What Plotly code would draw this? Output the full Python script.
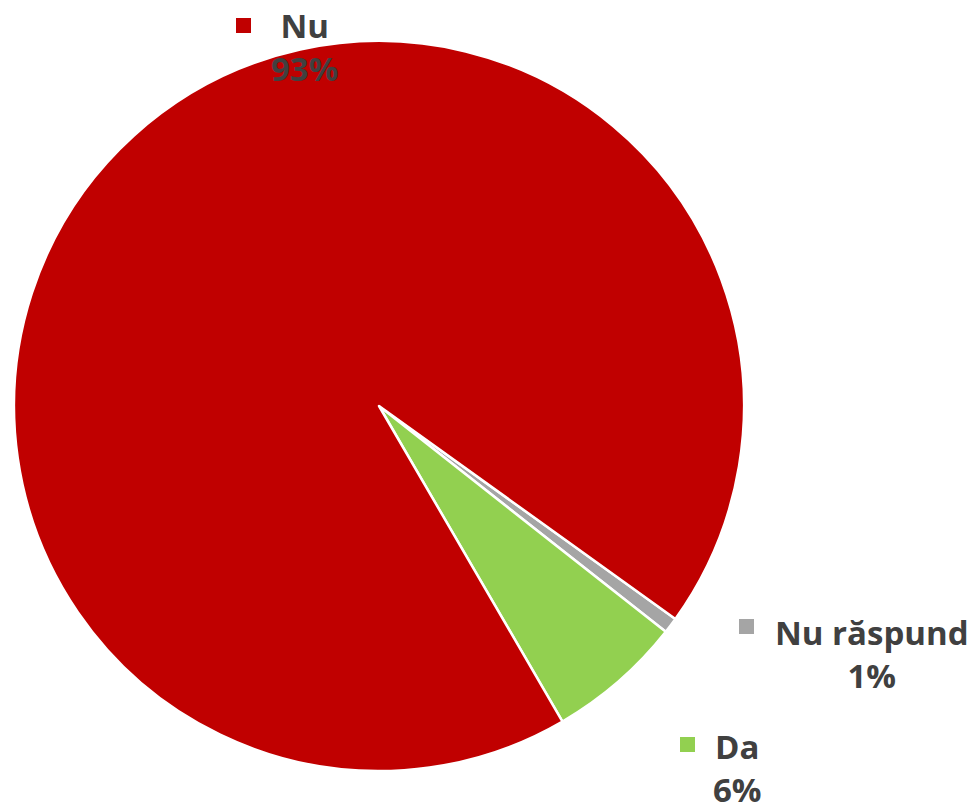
import plotly.graph_objects as go

labels = ["Nu răspund", "Da", "Nu"]
values = [0.7, 6.0, 93.3]
colors = ["#A5A5A5", "#92D050", "#C00000"]

# page body has an 8px margin; figure sized to fit the window
OFF = 8
W, H = 977 - OFF, 804 - OFF

def px(x):
    return (x - OFF) / W

def py(y):
    return 1 - (y - OFF) / H

fig = go.Figure(go.Pie(
    labels=labels,
    values=values,
    sort=False,
    direction="clockwise",
    rotation=125.7,
    marker=dict(colors=colors, line=dict(color="white", width=2.5)),
    textinfo="none",
    hoverinfo="label+percent",
    showlegend=False,
    domain=dict(x=[px(14), px(744)], y=[py(771), py(41)]),
))

# label block positions in window pixels (text center x, text middle y, marker x0, y0)
label_pos = {
    "Nu": (304, 47, 236, 18),
    "Nu răspund": (872, 654, 739, 619),
    "Da": (737, 768, 680, 737),
}

total = sum(values)
for lab, val, col in zip(labels, values, colors):
    cx, cy, sx, sy = label_pos[lab]
    fig.add_annotation(
        x=px(cx), y=py(cy), xref="paper", yref="paper",
        xanchor="center", yanchor="middle", align="center",
        text=f"{lab}<br>{round(val / total * 100)}%",
        showarrow=False,
        font=dict(family="Open Sans", size=33, color="#404040", weight="bold"),
    )
    fig.add_shape(
        type="rect", xref="paper", yref="paper",
        x0=px(sx), x1=px(sx + 15), y0=py(sy), y1=py(sy + 15),
        fillcolor=col, line=dict(width=0),
    )

fig.update_layout(
    width=W, height=H,
    margin=dict(l=0, r=0, t=0, b=0),
    paper_bgcolor="white",
    plot_bgcolor="white",
)

fig.write_html("out.html")
